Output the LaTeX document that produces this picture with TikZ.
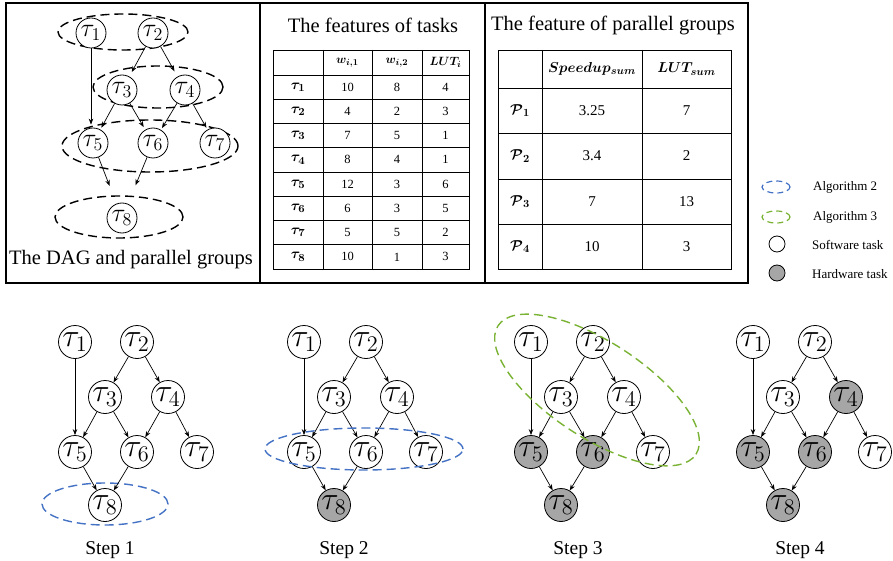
\documentclass[tikz,border=0pt]{standalone}
\usepackage{fontspec}
\setmainfont{Liberation Serif}
\usepackage{bm}
\usetikzlibrary{arrows.meta}
\definecolor{algblue}{RGB}{68,114,196}
\definecolor{alggreen}{RGB}{122,178,52}
\definecolor{hwgray}{RGB}{166,166,166}
\newcommand\tlab[1]{\scalebox{1.55}{$\tau_{#1}$}}
\newcommand\ttop[1]{\scalebox{1.5}{$\tau_{#1}$}}
\tikzset{
  task/.style={circle, draw, fill=white, line width=0.8pt, minimum size=33pt, inner sep=0pt, font=\fontsize{20.74}{21}\selectfont},
  toptask/.style={task, minimum size=30pt, font=\fontsize{17.28}{18}\selectfont},
  hw/.style={fill=hwgray},
  sw/.style={fill=white},
  edge/.style={-{Stealth[length=6pt,width=4.5pt]}, line width=0.7pt},
  grp/.style={dash pattern=on 9pt off 5pt, line width=1.4pt},
  smallgrp/.style={dash pattern=on 6pt off 4pt, line width=1.2pt},
  frame/.style={line width=1.3pt},
  tbl/.style={line width=0.8pt},
  cell/.style={inner sep=0pt, font=\fontsize{12.5}{12.5}\selectfont},
  bigcell/.style={inner sep=0pt, font=\fontsize{15}{15}\selectfont},
  title/.style={inner sep=0pt, font=\fontsize{20.5}{22}\selectfont},
  legtext/.style={anchor=west, inner sep=0pt, font=\fontsize{13}{13}\selectfont},
}
\newcommand\dagstep[6]{%
  \node[task] (#1t1) at (#2,342) {\tlab{1}};
  \node[task] (#1t2) at (#2+62,342) {\tlab{2}};
  \node[task] (#1t3) at (#2+30,397) {\tlab{3}};
  \node[task,#3] (#1t4) at (#2+93,397) {\tlab{4}};
  \node[task,#4] (#1t5) at (#2,452) {\tlab{5}};
  \node[task,#5] (#1t6) at (#2+62,452) {\tlab{6}};
  \node[task] (#1t7) at (#2+122,452) {\tlab{7}};
  \node[task,#6] (#1t8) at (#2+30,505) {\tlab{8}};
  \draw[edge] (#1t1) -- (#1t5);
  \draw[edge] (#1t2) -- (#1t3);
  \draw[edge] (#1t2) -- (#1t4);
  \draw[edge] (#1t3) -- (#1t5);
  \draw[edge] (#1t3) -- (#1t6);
  \draw[edge] (#1t4) -- (#1t6);
  \draw[edge] (#1t4) -- (#1t7);
  \draw[edge] (#1t5) -- (#1t8);
  \draw[edge] (#1t6) -- (#1t8);
}
\begin{document}
\begin{tikzpicture}[x=1pt,y=-1pt]
\useasboundingbox (0,0) rectangle (893,561);

% ---------- top frames ----------
\draw[frame] (6,3) rectangle (748,283);
\draw[frame] (260,3) -- (260,283);
\draw[frame] (485,3) -- (485,283);

% ---------- panel 1: DAG and parallel groups ----------
\draw[grp] (123,32) ellipse [x radius=65pt, y radius=18pt];
\draw[grp] (158,87) ellipse [x radius=65pt, y radius=21pt];
\draw[grp] (150,146) ellipse [x radius=88pt, y radius=26pt];
\draw[grp] (119,217) ellipse [x radius=64pt, y radius=21pt];
\node[toptask] (d1) at (91,33) {\ttop{1}};
\node[toptask] (d2) at (153,33) {\ttop{2}};
\node[toptask] (d3) at (122,90) {\ttop{3}};
\node[toptask] (d4) at (185,90) {\ttop{4}};
\node[toptask] (d5) at (93,143) {\ttop{5}};
\node[toptask] (d6) at (153,143) {\ttop{6}};
\node[toptask] (d7) at (215,143) {\ttop{7}};
\node[toptask] (d8) at (122,218) {\ttop{8}};
\draw[edge, shorten >=3pt] (d1.south) -- (d1.south |- d5.north);
\draw[edge, shorten >=5pt] (d2) -- (d3);
\draw[edge, shorten >=6pt] (d2) -- (d4);
\draw[edge, shorten >=2pt] (d3) -- (d5);
\draw[edge, shorten >=3pt] (d3) -- (d6);
\draw[edge, shorten >=2pt] (d4) -- (d6);
\draw[edge, shorten >=2pt] (d4) -- (d7);
\draw[edge, shorten >=19pt] (d5) -- (d8);
\draw[edge, shorten >=20pt] (d6) -- (d8);
\node[title] (t1) at (131,260) {The DAG and parallel groups};

% ---------- panel 2: features of tasks ----------
\node[title] (t2) at (373,25) {The features of tasks};
\draw[tbl] (273,50) rectangle (469,269);
\foreach \x in {323,372,422} \draw[tbl] (\x,50) -- (\x,269);
\foreach \i in {0,...,7} \draw[tbl] (273,{75+24.25*\i}) -- (469,{75+24.25*\i});
\node[cell] (ha) at (347.5,62.5) {$\bm{w_{i,1}}$};
\node[cell] (hb) at (397,62.5) {$\bm{w_{i,2}}$};
\node[cell] (hc) at (445.5,62.5) {$\bm{LUT_i}$};
\foreach \a/\b/\c [count=\i] in {10/8/4, 4/2/3, 7/5/1, 8/4/1, 12/3/6, 6/3/5, 5/5/2, 10/1/3} {
  \pgfmathsetmacro\yy{75+24.25*(\i-0.5)}
  \node[cell] (r\i-0) at (298,\yy) {\scalebox{1.2}{$\bm{\tau_{\i}}$}};
  \node[cell] (r\i-1) at (347.5,\yy) {\a};
  \node[cell] (r\i-2) at (397,\yy) {\b};
  \node[cell] (r\i-3) at (445.5,\yy) {\c};
}

% ---------- panel 3: features of parallel groups ----------
\node[title] (t3) at (613,25) {The feature of parallel groups};
\draw[tbl] (498,50) rectangle (731,269);
\foreach \x in {542,642} \draw[tbl] (\x,50) -- (\x,269);
\foreach \y in {88,133,179,224} \draw[tbl] (498,\y) -- (731,\y);
\node[bigcell] (pa) at (592,69) {$\bm{Speedup_{sum}}$};
\node[bigcell] (pb) at (686.5,69) {$\bm{LUT_{sum}}$};
\foreach \a/\b/\yy [count=\i] in {3.25/7/110.5, 3.4/2/156, 7/13/201.5, 10/3/246.5} {
  \node[bigcell] (p\i-0) at (520,\yy) {$\bm{\mathcal{P}_{\i}}$};
  \node[bigcell] (p\i-1) at (592,\yy) {\a};
  \node[bigcell] (p\i-2) at (686.5,\yy) {\b};
}

% ---------- legend ----------
\draw[smallgrp, algblue] (776,187) ellipse [x radius=14pt, y radius=6pt];
\draw[smallgrp, alggreen] (776,217) ellipse [x radius=14pt, y radius=6pt];
\node[circle, draw, line width=0.8pt, minimum size=16pt, inner sep=0pt, sw] (lsw) at (777,244) {};
\node[circle, draw, line width=0.8pt, minimum size=16pt, inner sep=0pt, hw] (lhw) at (777,273) {};
\node[legtext] (l1) at (813,187) {Algorithm 2};
\node[legtext] (l2) at (813,217) {Algorithm 3};
\node[legtext] (l3) at (812,245) {Software task};
\node[legtext] (l4) at (812,274) {Hardware task};

% ---------- steps ----------
\draw[grp, algblue] (105,504) ellipse [x radius=63pt, y radius=21pt];
\dagstep{a}{75}{sw}{sw}{sw}{sw}
\dagstep{b}{304}{sw}{sw}{sw}{hw}
\draw[grp, algblue] (364,449) ellipse [x radius=99pt, y radius=21pt];
\dagstep{c}{531}{sw}{hw}{hw}{hw}
\draw[grp, alggreen, rotate around={-33:(597,390)}] (597,390) ellipse [x radius=118pt, y radius=48pt];
\dagstep{d}{753}{hw}{hw}{hw}{hw}

\node[title, font=\fontsize{19.5}{20}\selectfont] (s1) at (110,550) {Step 1};
\node[title, font=\fontsize{19.5}{20}\selectfont] (s2) at (344,550) {Step 2};
\node[title, font=\fontsize{19.5}{20}\selectfont] (s3) at (578,550) {Step 3};
\node[title, font=\fontsize{19.5}{20}\selectfont] (s4) at (800,550) {Step 4};
\end{tikzpicture}
\end{document}
